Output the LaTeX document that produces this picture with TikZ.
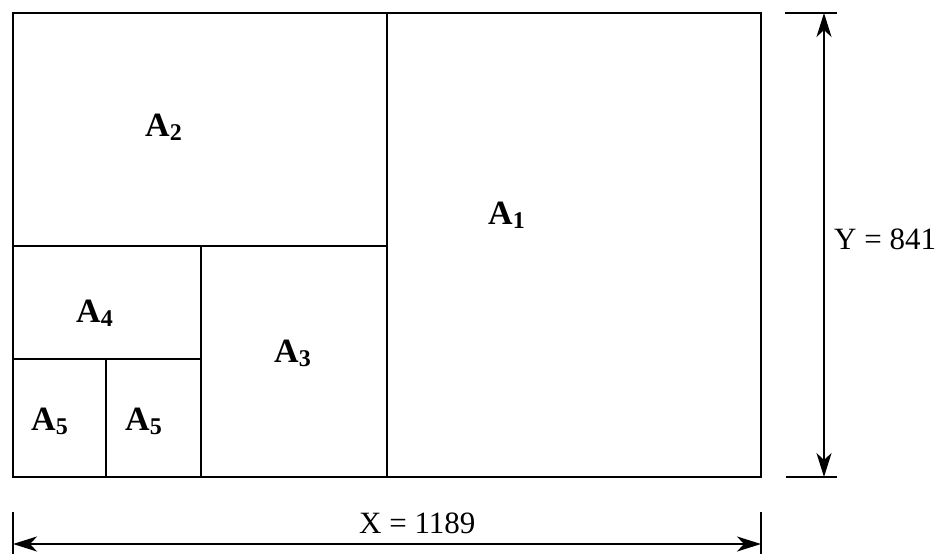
\documentclass[tikz,border=0pt]{standalone}
\usepackage{fontspec}
\setmainfont{Liberation Serif}
\usetikzlibrary{arrows.meta}
\newcommand{\Alab}[1]{A\raisebox{-4pt}{\fontsize{24}{24}\selectfont #1}}
\begin{document}
\begin{tikzpicture}[x=1pt,y=-1pt,
  outer/.style={line width=2.2pt},
  inner/.style={line width=1.5pt},
  dimline/.style={line width=2.2pt},
  dimarrow/.style={line width=2.2pt,{Stealth[length=24pt,width=15pt,inset=7pt]}-{Stealth[length=24pt,width=15pt,inset=7pt]}},
  lab/.style={inner sep=0pt,anchor=base west,font=\fontsize{34}{34}\selectfont\bfseries},
  dimlab/.style={inner sep=0pt,anchor=base west,font=\fontsize{31}{31}\selectfont}]
\useasboundingbox (0,0) rectangle (944,554);
% corners
\coordinate (tl) at (13,13);
\coordinate (br) at (761,477);
\coordinate (m1t) at (387,13);
\coordinate (m1b) at (387,477);
\coordinate (h2l) at (13,246);
\coordinate (h2r) at (387,246);
\coordinate (v3t) at (201,246);
\coordinate (v3b) at (201,477);
\coordinate (h4l) at (13,359);
\coordinate (h4r) at (201,359);
\coordinate (v5t) at (106,359);
\coordinate (v5b) at (106,477);
\draw[inner] (m1t) -- (m1b);
\draw[inner] (h2l) -- (h2r);
\draw[inner] (v3t) -- (v3b);
\draw[inner] (h4l) -- (h4r);
\draw[inner] (v5t) -- (v5b);
\draw[outer] (tl) rectangle (br);
% labels
\node[lab] (a1) at (488,224) {\Alab{1}};
\node[lab] (a2) at (145,136) {\Alab{2}};
\node[lab] (a3) at (274,362) {\Alab{3}};
\node[lab] (a4) at (76,322) {\Alab{4}};
\node[lab] (a5a) at (31,430) {\Alab{5}};
\node[lab] (a5b) at (125,430) {\Alab{5}};
% right dimension
\coordinate (rt1) at (785,13);
\coordinate (rt2) at (837,13);
\coordinate (rb1) at (786,477);
\coordinate (rb2) at (837,477);
\coordinate (ra) at (824,13);
\coordinate (rb) at (824,477);
\draw[dimline] (rt1) -- (rt2);
\draw[dimline] (rb1) -- (rb2);
\draw[dimarrow] (ra) -- (rb);
\node[dimlab] (ylab) at (834,249) {Y = 841};
% bottom dimension
\coordinate (bl1) at (13,512);
\coordinate (bl2) at (13,554);
\coordinate (br1) at (761,512);
\coordinate (br2) at (761,554);
\coordinate (ba) at (13,544);
\coordinate (bb) at (761,544);
\draw[dimline] (bl1) -- (bl2);
\draw[dimline] (br1) -- (br2);
\draw[dimarrow] (ba) -- (bb);
\node[dimlab] (xlab) at (359,533) {X = 1189};
\end{tikzpicture}
\end{document}
